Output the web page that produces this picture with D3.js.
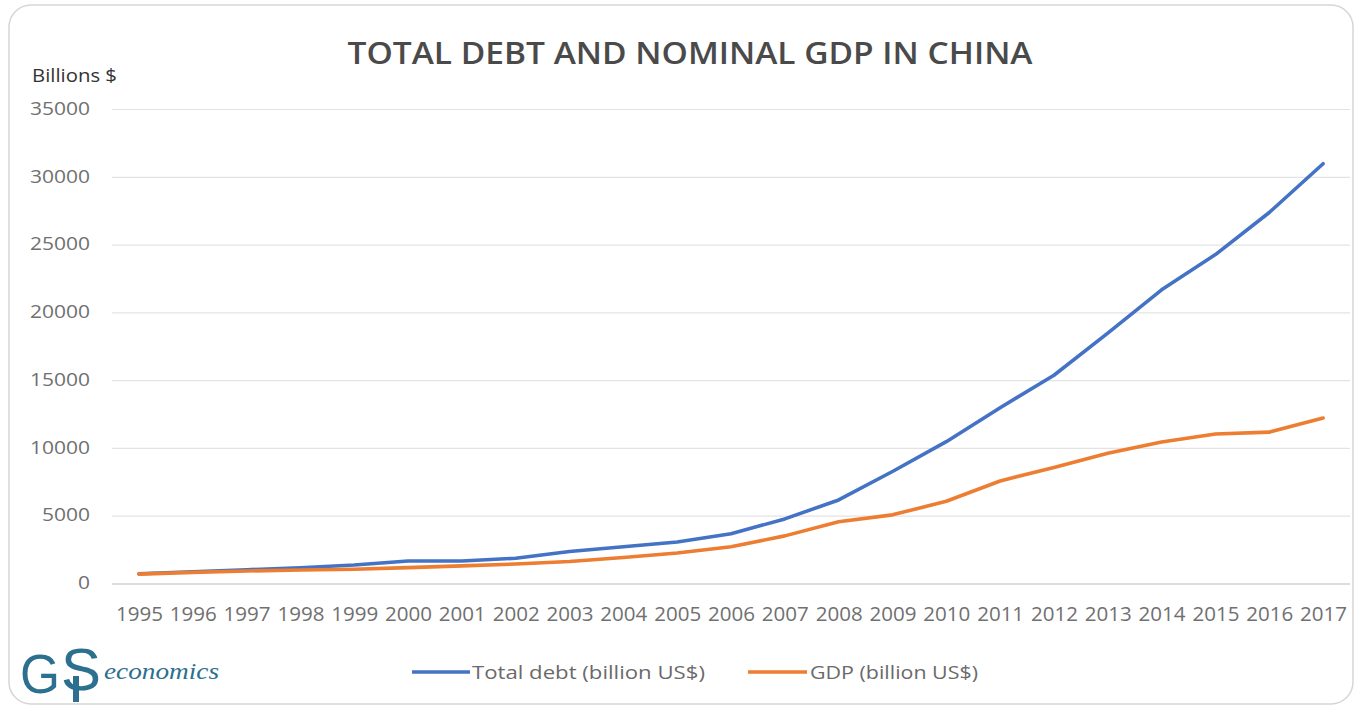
<!DOCTYPE html>
<html>
<head>
<meta charset="utf-8">
<script src="https://cdn.jsdelivr.net/npm/d3@7"></script>
<style>
  html, body { margin: 0; padding: 0; background: #ffffff; }
  svg { display: block; }
</style>
</head>
<body>
<svg id="chart" width="1362" height="711"></svg>
<script>
// Years on the category axis
const years = ["1995","1996","1997","1998","1999","2000","2001","2002","2003","2004","2005","2006",
               "2007","2008","2009","2010","2011","2012","2013","2014","2015","2016","2017"];

// Total debt, billion US$
const totalDebt = [760, 900, 1050, 1200, 1400, 1700, 1700, 1900, 2400, 2750, 3100, 3700,
                   4800, 6200, 8300, 10500, 13000, 15400, 18500, 21700, 24300, 27400, 31000];

// Nominal GDP, billion US$
const gdp = [730, 860, 960, 1030, 1090, 1210, 1340, 1470, 1660, 1960, 2290, 2750,
             3550, 4590, 5100, 6100, 7600, 8600, 9650, 10480, 11060, 11200, 12240];

// Value axis ticks
const yTicks = [0, 5000, 10000, 15000, 20000, 25000, 30000, 35000];

const seriesNames = ["Total debt (billion US$)", "GDP (billion US$)"];
const seriesColors = ["#4472c4", "#ed7d31"];

const svg = d3.select("#chart");
const W = 1362, H = 711;
const FONT = "'Open Sans', 'DejaVu Sans', sans-serif";

// Outer frame
svg.append("rect")
  .attr("x", 9).attr("y", 5).attr("width", W - 18).attr("height", H - 12)
  .attr("rx", 22).attr("ry", 22)
  .attr("fill", "#ffffff").attr("stroke", "#d6d6d6").attr("stroke-width", 1.5);

const plot = { left: 112, right: 1350, top: 109.5, bottom: 584 };

const x = d3.scalePoint().domain(years).range([plot.left, plot.right]).padding(0.5);
const y = d3.scaleLinear().domain([0, 35000]).range([plot.bottom, plot.top]);

// Horizontal gridlines
svg.append("g")
  .selectAll("line")
  .data(yTicks)
  .join("line")
  .attr("x1", plot.left).attr("x2", plot.right)
  .attr("y1", d => y(d)).attr("y2", d => y(d))
  .attr("stroke", d => d === 0 ? "#d0d0d0" : "#e3e3e3")
  .attr("stroke-width", d => d === 0 ? 1.5 : 1.2);

// Y axis labels
const yAxis = d3.axisLeft(y).tickValues(yTicks).tickSize(0).tickPadding(0).tickFormat(d3.format("d"));
const gy = svg.append("g").attr("transform", `translate(${plot.left - 22},0)`).call(yAxis);
gy.select(".domain").remove();
gy.selectAll("text")
  .attr("fill", "#707070")
  .attr("dy", "0.25em")
  .attr("textLength", d => String(d).length * 12)
  .attr("lengthAdjust", "spacingAndGlyphs")
  .style("font-family", FONT)
  .style("font-size", "19px");

// X axis labels
const xAxis = d3.axisBottom(x).tickSize(0).tickPadding(0);
const gx = svg.append("g").attr("transform", `translate(0,${plot.bottom + 37})`).call(xAxis);
gx.select(".domain").remove();
gx.selectAll("text")
  .attr("fill", "#707070")
  .attr("dy", 0)
  .attr("textLength", 47)
  .attr("lengthAdjust", "spacingAndGlyphs")
  .style("font-family", FONT)
  .style("font-size", "20px");

// Series lines
const line = d3.line().x((d, i) => x(years[i])).y(d => y(d));
[totalDebt, gdp].forEach((vals, k) => {
  svg.append("path")
    .datum(vals)
    .attr("d", line)
    .attr("fill", "none")
    .attr("stroke", seriesColors[k])
    .attr("stroke-width", 3.6)
    .attr("stroke-linejoin", "round")
    .attr("stroke-linecap", "round");
});

// Title
svg.append("text")
  .attr("x", 690).attr("y", 64)
  .attr("text-anchor", "middle")
  .attr("fill", "#4a4a4a")
  .attr("textLength", 685)
  .attr("lengthAdjust", "spacingAndGlyphs")
  .style("font-family", FONT)
  .style("font-weight", "600")
  .style("font-size", "31px")
  .text("TOTAL DEBT AND NOMINAL GDP IN CHINA");

// Unit label
svg.append("text")
  .attr("x", 32).attr("y", 82)
  .attr("fill", "#333333")
  .attr("textLength", 85)
  .attr("lengthAdjust", "spacingAndGlyphs")
  .style("font-family", FONT)
  .style("font-size", "19px")
  .text("Billions $");

// Legend
const legendItems = [
  { x1: 412, x2: 470, tx: 472, len: 233 },
  { x1: 748, x2: 807, tx: 810, len: 168 }
];
legendItems.forEach((it, k) => {
  svg.append("line")
    .attr("x1", it.x1).attr("x2", it.x2)
    .attr("y1", 672).attr("y2", 672)
    .attr("stroke", seriesColors[k]).attr("stroke-width", 3.6);
  svg.append("text")
    .attr("x", it.tx).attr("y", 679)
    .attr("fill", "#6a6a6a")
    .attr("textLength", it.len)
    .attr("lengthAdjust", "spacingAndGlyphs")
    .style("font-family", FONT)
    .style("font-size", "19px")
    .text(seriesNames[k]);
});

// Logo mark
const logoColor = "#2c6f8e";
const logo = svg.append("g");
logo.append("text")
  .attr("x", 20).attr("y", 693)
  .attr("fill", logoColor)
  .attr("textLength", 40)
  .attr("lengthAdjust", "spacingAndGlyphs")
  .style("font-family", "'Liberation Sans', Arial, sans-serif")
  .style("font-size", "56px")
  .text("G");
logo.append("text")
  .attr("x", 61).attr("y", 690)
  .attr("fill", logoColor)
  .attr("textLength", 40)
  .attr("lengthAdjust", "spacingAndGlyphs")
  .style("font-family", "'Liberation Sans', Arial, sans-serif")
  .style("font-size", "60px")
  .text("S");
logo.append("line")
  .attr("x1", 76).attr("x2", 76).attr("y1", 676).attr("y2", 702)
  .attr("stroke", logoColor).attr("stroke-width", 6);
logo.append("text")
  .attr("x", 104).attr("y", 679)
  .attr("fill", logoColor)
  .attr("textLength", 115)
  .attr("lengthAdjust", "spacingAndGlyphs")
  .style("font-family", "'Liberation Serif', 'DejaVu Serif', serif")
  .style("font-style", "italic")
  .style("font-size", "24px")
  .text("economics");
</script>
</body>
</html>
